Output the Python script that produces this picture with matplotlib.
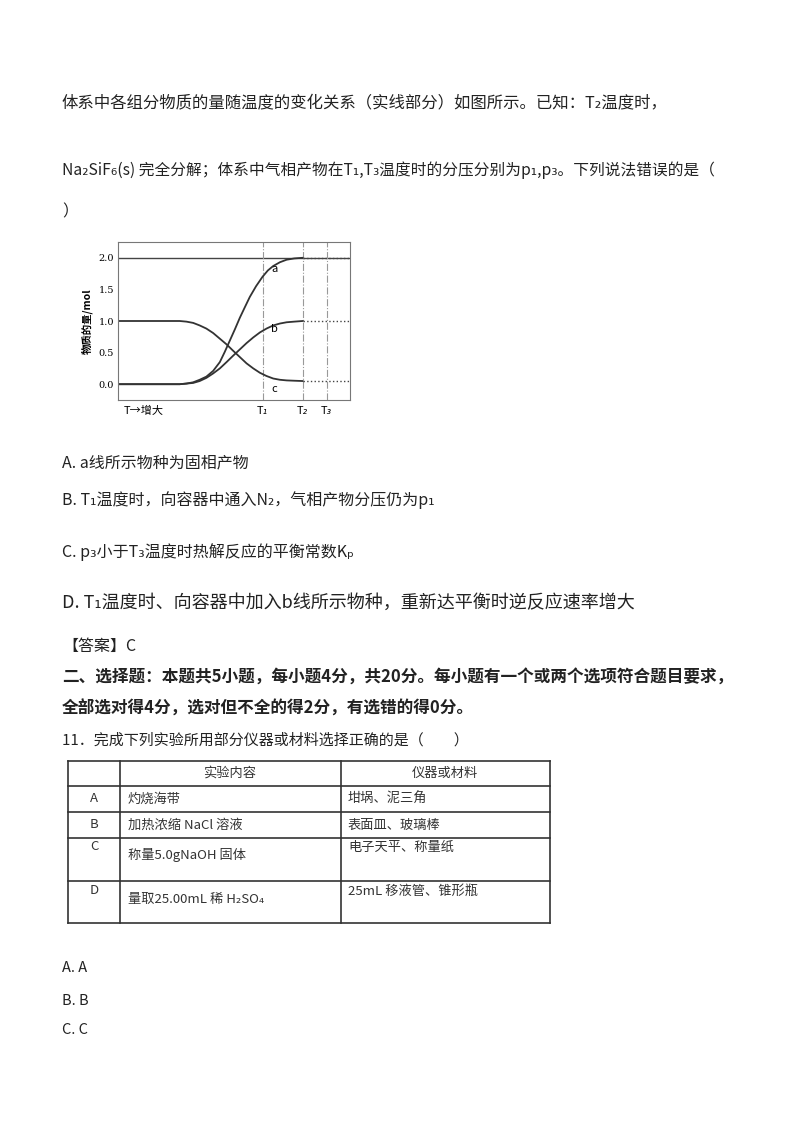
import matplotlib
matplotlib.use("Agg")
import matplotlib.pyplot as plt

plt.rcParams['font.family'] = ['Noto Sans CJK SC', 'DejaVu Sans']

# chart data (x: relative temperature units; y: mol)
x_a = [0, 2.66, 2.95, 3.24, 3.52, 3.81, 4.10, 4.39, 4.60, 4.82, 5.04, 5.25, 5.47, 5.68, 5.95, 6.23, 6.46, 6.69, 6.98, 7.27, 7.60, 7.96]
y_a = [0, 0.0, 0.01, 0.03, 0.07, 0.12, 0.21, 0.35, 0.51, 0.69, 0.87, 1.05, 1.22, 1.38, 1.55, 1.70, 1.80, 1.87, 1.93, 1.97, 1.99, 2.0]
x_b = [0, 2.66, 2.95, 3.24, 3.52, 3.81, 4.10, 4.39, 4.68, 4.96, 5.25, 5.54, 5.83, 6.12, 6.40, 6.69, 6.98, 7.27, 7.60, 7.96]
y_b = [0, 0.0, 0.01, 0.02, 0.05, 0.10, 0.17, 0.25, 0.35, 0.45, 0.55, 0.65, 0.74, 0.82, 0.88, 0.93, 0.96, 0.98, 0.99, 1.0]
x_c = [0, 2.66, 2.95, 3.24, 3.52, 3.81, 4.10, 4.39, 4.68, 4.96, 5.25, 5.54, 5.83, 6.12, 6.40, 6.69, 6.98, 7.27, 7.60, 7.96]
y_c = [1.0, 1.0, 0.99, 0.97, 0.93, 0.88, 0.81, 0.72, 0.63, 0.53, 0.43, 0.33, 0.25, 0.18, 0.13, 0.09, 0.07, 0.06, 0.055, 0.05]
x_end = [7.96, 10.0]
T_pos = [6.23, 7.96, 8.99]
T_labels = ['T₁', 'T₂', 'T₃']
y_ticks = [0.0, 0.5, 1.0, 1.5, 2.0]

# table data
tab_header = ['', '实验内容', '仪器或材料']
tab_rows = [['A', '灼烧海带', '坩埚、泥三角'],
            ['B', '加热浓缩 NaCl 溶液', '表面皿、玻璃棒'],
            ['C', '称量5.0gNaOH 固体', '电子天平、称量纸'],
            ['D', '量取25.00mL 稀 H₂SO₄', '25mL 移液管、锥形瓶']]

W, H = 800, 1132
fig = plt.figure(figsize=(W/100, H/100), dpi=100)
bg = fig.add_axes([0, 0, 1, 1])
bg.set_xlim(0, W); bg.set_ylim(H, 0); bg.axis('off')

fs = 11.5
def t(x, y, s, **kw):
    kw.setdefault('fontsize', fs)
    bg.text(x, y, s, va='center', ha='left', color='#222222', **kw)

t(62, 103, '体系中各组分物质的量随温度的变化关系（实线部分）如图所示。已知：T₂温度时，', fontsize=11.8)
t(62, 170, 'Na₂SiF₆(s) 完全分解；体系中气相产物在T₁,T₃温度时的分压分别为p₁,p₃。下列说法错误的是（', fontsize=11.3)
t(62, 212, '）')
t(62, 463, 'A. a线所示物种为固相产物')
t(62, 500, 'B. T₁温度时，向容器中通入N₂，气相产物分压仍为p₁')
t(62, 552, 'C. p₃小于T₃温度时热解反应的平衡常数Kₚ')
t(62, 603, 'D. T₁温度时、向容器中加入b线所示物种，重新达平衡时逆反应速率增大', fontsize=13)
t(62, 646, '【答案】C')
t(62, 677, '二、选择题：本题共5小题，每小题4分，共20分。每小题有一个或两个选项符合题目要求，', fontsize=12, fontweight='bold')
t(62, 709, '全部选对得4分，选对但不全的得2分，有选错的得0分。', fontsize=12, fontweight='bold')
t(62, 740, '11．完成下列实验所用部分仪器或材料选择正确的是（　　）', fontsize=10.8)
t(62, 968, 'A. A', fontsize=10.5)
t(62, 1001, 'B. B', fontsize=10.5)
t(62, 1030, 'C. C', fontsize=10.5)

# table
xs = [68, 120, 341, 550]
ys = [761, 786, 812, 838, 881, 923]
for x in xs:
    bg.plot([x, x], [ys[0], ys[-1]], color='#333333', lw=1.2)
for y in ys:
    bg.plot([xs[0], xs[-1]], [y, y], color='#333333', lw=1.2)
bg.text(230, 773, tab_header[1], ha='center', va='center', fontsize=9.5, color='#333')
bg.text(445, 773, tab_header[2], ha='center', va='center', fontsize=9.5, color='#333')
row_y = [799, 825, 851, 895]
for (k, c1, c2), ry in zip(tab_rows, row_y):
    ky = ry if ry < 840 else ry - 4
    if k == 'C':
        ky = 847
    bg.text(94, ky, k, ha='center', va='center', fontsize=9.5, color='#333')
    bg.text(128, ry + (4 if k in 'CD' else 0), c1, ha='left', va='center', fontsize=9.5, color='#333')
    bg.text(348, ry - (4 if k in 'CD' else 0), c2, ha='left', va='center', fontsize=9.5, color='#333')

# chart
ax = fig.add_axes([118/W, 1 - 400/H, (350-118)/W, (400-242)/H])
ax.set_xlim(0, 10); ax.set_ylim(-0.25, 2.25)
for sp in ax.spines.values():
    sp.set_color('#777777'); sp.set_linewidth(0.8)
ax.axhline(2.0, color='#444', lw=1)
for xp in T_pos:
    ax.axvline(xp, color='#999', lw=0.8, ls='-.')
ax.plot(x_a, y_a, color='#333', lw=1.3)
ax.plot(x_b, y_b, color='#333', lw=1.3)
ax.plot(x_c, y_c, color='#333', lw=1.3)
for yv in [y_a[-1], y_b[-1], y_c[-1]]:
    ax.plot(x_end, [yv, yv], color='#444', lw=1, ls=':')
ax.text(6.6, 1.78, 'a', fontsize=8); ax.text(6.6, 0.82, 'b', fontsize=8); ax.text(6.6, -0.12, 'c', fontsize=8)
ax.set_yticks(y_ticks)
ax.set_yticklabels([f'{v:.1f}' for v in y_ticks], fontsize=7, fontfamily='DejaVu Serif')
ax.tick_params(axis='y', length=0, pad=3)
ax.set_xticks([])
ax.set_ylabel('物质的量/mol', fontsize=7.5, fontweight='bold', labelpad=4)
bg.text(124, 411, 'T→增大', fontsize=8, va='center', style='italic')
for xp, lab in zip(T_pos, T_labels):
    px = 118 + xp * 23.2
    bg.text(px, 411, lab, fontsize=8, ha='center', va='center', style='italic')

fig.savefig('out.png', dpi=100, facecolor='white')
